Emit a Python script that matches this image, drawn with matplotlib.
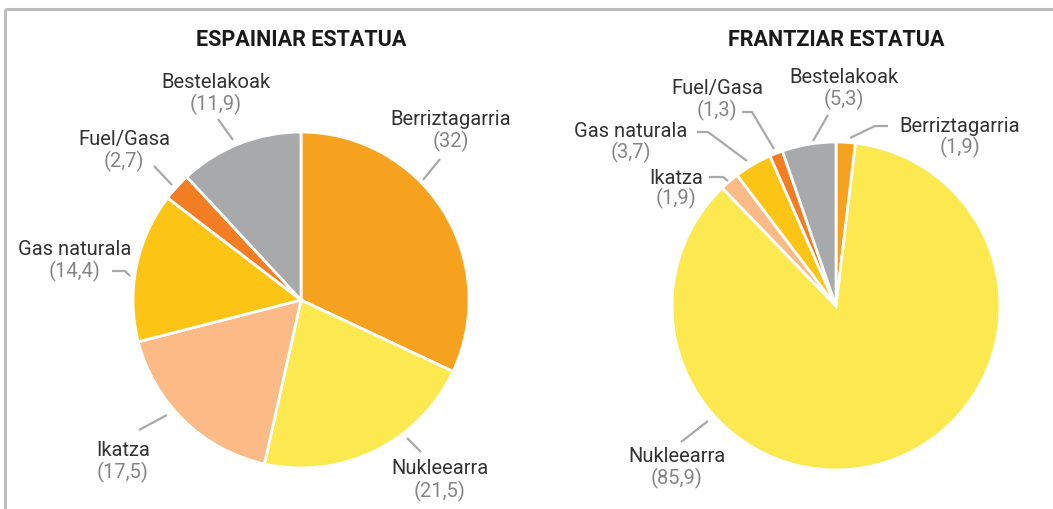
import matplotlib
matplotlib.use("Agg")
import matplotlib.pyplot as plt

# ---- data ----
categories = ["Berriztagarria", "Nukleearra", "Ikatza", "Gas naturala", "Fuel/Gasa", "Bestelakoak"]
spain_values = [32, 21.5, 17.5, 14.4, 2.7, 11.9]
france_values = [1.9, 85.9, 1.9, 3.7, 1.3, 5.3]
titles = ["ESPAINIAR ESTATUA", "FRANTZIAR ESTATUA"]

# ---- styles ----
colors = ["#F7A21F", "#FBE94F", "#FBBA86", "#FCC515", "#F27D22", "#A7A9AA"]
NAME_COLOR = "#333333"
VALUE_COLOR = "#858585"
LINE_COLOR = "#a9a9a9"
FONT = ["Roboto", "DejaVu Sans"]

W, H = 1053, 509

# ---- layout (pixel coords, y from top) ----
pie_layout = [
    dict(center=(301, 300), r=168, title=(301, 40)),
    dict(center=(836, 306), r=164, title=(836, 40)),
]
# per category: (name_x, name_y, value_y, leader path)
label_layout = [
    [
        (451, 119, 141, [(423, 180), (440, 159)]),
        (440, 469, 491, [(407, 438), (421, 452)]),
        (123, 451, 472, [(167, 415), (139, 430)]),
        (75, 249, 271, [(130, 276), (125, 271), (112, 271)]),
        (124, 139, 161, [(172, 185), (154, 166)]),
        (216, 82, 104, [(233, 140), (218, 119)]),
    ],
    [
        (960, 126, 147, [(850, 138), (875, 126), (888, 126)]),
        (677, 457, 478, [(708, 421), (681, 442)]),
        (676, 178, 198, [(728, 181), (723, 177), (709, 177)]),
        (631, 131, 152, [(747, 161), (708, 132), (697, 132)]),
        (717, 88, 110, [(774, 149), (752, 112), (742, 112)]),
        (844, 77, 99, [(813, 141), (828, 115)]),
    ],
]


def fy(y):
    return H - y


def fmt(v):
    return "(" + f"{v:g}".replace(".", ",") + ")"


fig = plt.figure(figsize=(W / 100, H / 100), dpi=100)
ax = fig.add_axes([0, 0, 1, 1])

for values, title, pl, labels in zip([spain_values, france_values], titles, pie_layout, label_layout):
    cx, cy = pl["center"]
    ax.pie(values, colors=colors, startangle=90, counterclock=False,
           center=(cx, fy(cy)), radius=pl["r"],
           wedgeprops=dict(edgecolor="white", linewidth=2))
    tx, ty = pl["title"]
    ax.text(tx, fy(ty), title, ha="center", va="center", fontsize=15.5,
            fontweight="bold", color="#1a1a1a", family=FONT)
    for cat, v, (nx, ny, vy, path) in zip(categories, values, labels):
        ax.text(nx, fy(ny), cat, ha="center", va="center", fontsize=14.5,
                color=NAME_COLOR, family=FONT)
        ax.text(nx, fy(vy), fmt(v), ha="center", va="center", fontsize=14.5,
                color=VALUE_COLOR, family=FONT)
        xs = [p[0] for p in path]
        ys = [fy(p[1]) for p in path]
        ax.plot(xs, ys, color=LINE_COLOR, lw=1.6, solid_capstyle="butt")

# frame lines (top and left)
ax.plot([5, W], [fy(9), fy(9)], color="#bdbdbd", lw=2.2, solid_capstyle="butt")
ax.plot([5, 5], [fy(9), 0], color="#bdbdbd", lw=2.2, solid_capstyle="butt")

ax.set_xlim(0, W)
ax.set_ylim(0, H)
ax.set_aspect("auto")
ax.axis("off")

fig.savefig("out.png", dpi=100, facecolor="white")
